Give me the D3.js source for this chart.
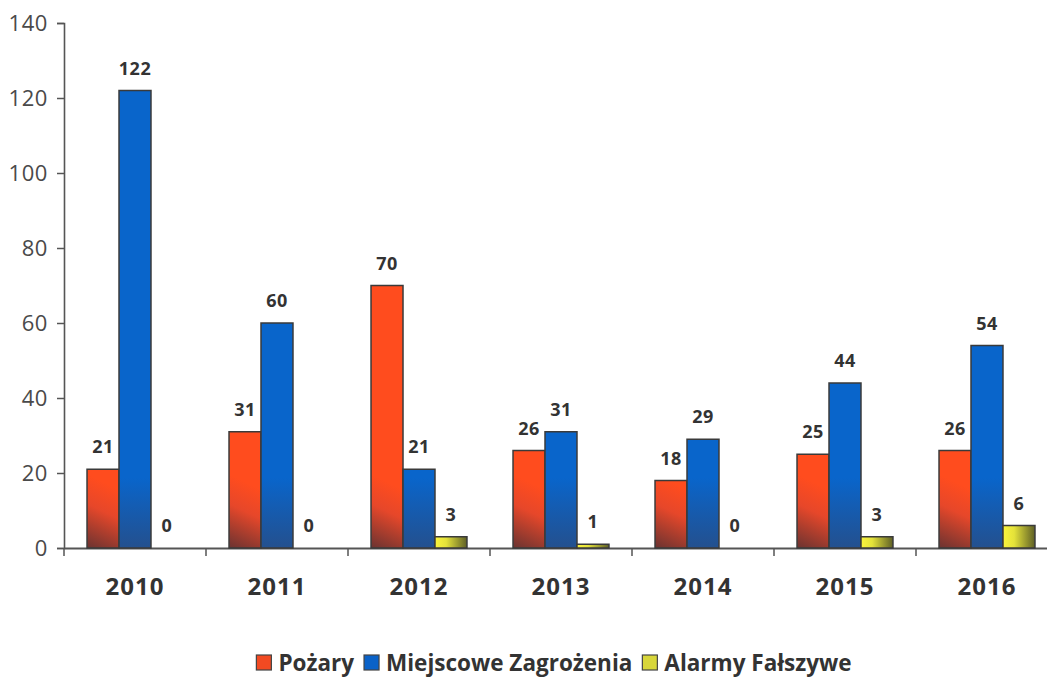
<!DOCTYPE html>
<html>
<head>
<meta charset="utf-8">
<script src="https://cdn.jsdelivr.net/npm/d3@7"></script>
<style>
  body { margin: 0; background: #fff; }
  svg { display: block; }
</style>
</head>
<body>
<div id="chart"></div>
<script>
// data
const years = ["2010", "2011", "2012", "2013", "2014", "2015", "2016"];
const seriesNames = ["Pożary", "Miejscowe Zagrożenia", "Alarmy Fałszywe"];
const pozary = [21, 31, 70, 26, 18, 25, 26];
const miejscowe = [122, 60, 21, 31, 29, 44, 54];
const alarmy = [0, 0, 3, 1, 0, 3, 6];
const yTicks = [0, 20, 40, 60, 80, 100, 120, 140];

const width = 1047;
const height = 677;
const margin = { top: 23, left: 64, bottom: 129 };
const plotRight = 1058; // last category runs past the picture edge

const svg = d3.select("#chart").append("svg")
  .attr("width", width)
  .attr("height", height);

const x = d3.scaleBand()
  .domain(years)
  .range([margin.left, plotRight]);

const xInner = d3.scaleBand()
  .domain(seriesNames)
  .range([0, x.bandwidth()])
  .paddingOuter(0.72)
  .paddingInner(0);

const y = d3.scaleLinear()
  .domain([0, 140])
  .range([height - margin.bottom, margin.top]);

const base = y(0);
const defs = svg.append("defs");

// y axis
const yAxis = svg.append("g")
  .attr("transform", `translate(${margin.left},0)`)
  .call(d3.axisLeft(y).tickValues(yTicks).tickSize(7).tickPadding(9));
yAxis.select(".domain").attr("stroke", "#555").attr("stroke-width", 1.6);
yAxis.selectAll(".tick line").attr("stroke", "#555").attr("stroke-width", 1.5);
yAxis.selectAll("text")
  .attr("fill", "#4a4a4a")
  .style("font-family", "'Open Sans', sans-serif")
  .style("font-size", "22px")
  .style("letter-spacing", "0.6px");

// x axis
const xAxis = svg.append("g")
  .attr("transform", `translate(0,${base})`)
  .call(d3.axisBottom(x).tickSize(0).tickPadding(30));
xAxis.select(".domain").attr("stroke", "#555").attr("stroke-width", 1.8);
xAxis.selectAll("text")
  .attr("fill", "#333")
  .style("font-family", "'Open Sans', sans-serif")
  .style("font-weight", "bold")
  .style("font-size", "24px")
  .style("letter-spacing", "1px");
// category separators
svg.append("g").selectAll("line")
  .data(years)
  .enter().append("line")
  .attr("x1", d => x(d)).attr("x2", d => x(d))
  .attr("y1", base).attr("y2", base + 8)
  .attr("stroke", "#555").attr("stroke-width", 1.5);

const values = [pozary, miejscowe, alarmy];
const rows = [];
years.forEach((yr, i) => {
  seriesNames.forEach((s, j) => rows.push({ year: yr, series: s, si: j, value: values[j][i], id: i }));
});

// gradients per bar
rows.forEach(d => {
  const bx = x(d.year) + xInner(d.series);
  const bw = xInner.bandwidth();
  const g = defs.append("linearGradient")
    .attr("id", `g${d.id}_${d.si}`)
    .attr("gradientUnits", "userSpaceOnUse");
  if (d.si === 0) {
    g.attr("x1", bx).attr("y1", base).attr("x2", bx + bw * 0.9).attr("y2", base - 60);
    g.append("stop").attr("offset", 0).attr("stop-color", "#6a3331");
    g.append("stop").attr("offset", 0.6).attr("stop-color", "#e6472a");
    g.append("stop").attr("offset", 1).attr("stop-color", "#ff4c1e");
  } else if (d.si === 1) {
    g.attr("x1", bx).attr("y1", base).attr("x2", bx).attr("y2", base - 70);
    g.append("stop").attr("offset", 0).attr("stop-color", "#24508e");
    g.append("stop").attr("offset", 1).attr("stop-color", "#0965cb");
  } else {
    g.attr("x1", bx).attr("y1", base).attr("x2", bx + bw).attr("y2", base);
    g.append("stop").attr("offset", 0).attr("stop-color", "#fbf43c");
    g.append("stop").attr("offset", 0.35).attr("stop-color", "#e4e23a");
    g.append("stop").attr("offset", 1).attr("stop-color", "#5e5f26");
  }
});

// bars
svg.append("g").selectAll("rect")
  .data(rows.filter(d => d.value > 0))
  .enter().append("rect")
  .attr("x", d => x(d.year) + xInner(d.series))
  .attr("y", d => y(d.value))
  .attr("width", xInner.bandwidth())
  .attr("height", d => base - y(d.value))
  .attr("fill", d => `url(#g${d.id}_${d.si})`)
  .attr("stroke", "#3a3a3a")
  .attr("stroke-width", 1.5);

// value labels
svg.append("g").selectAll("text")
  .data(rows)
  .enter().append("text")
  .attr("x", d => x(d.year) + xInner(d.series) + xInner.bandwidth() / 2)
  .attr("y", d => y(d.value) - 16)
  .attr("text-anchor", "middle")
  .attr("fill", "#333")
  .style("font-family", "'Open Sans', sans-serif")
  .style("font-weight", "bold")
  .style("font-size", "18px")
  .style("letter-spacing", "0.5px")
  .text(d => d.value);

// legend
const legendColors = ["#f24a22", "#0a62c8", "#d8d63a"];
const legend = svg.append("g").attr("transform", `translate(0,663)`);
let lx = 0;
seriesNames.forEach((s, j) => {
  const it = legend.append("g");
  it.append("rect")
    .attr("x", 0).attr("y", -8)
    .attr("width", 15).attr("height", 15)
    .attr("fill", legendColors[j])
    .attr("stroke", "#444").attr("stroke-width", 1.2);
  const t = it.append("text")
    .attr("x", 22).attr("y", 8)
    .attr("fill", "#333")
    .style("font-family", "'Open Sans', sans-serif")
    .style("font-weight", "bold")
    .style("font-size", "22.5px")
    .text(s);
  const w = 22 + t.node().getComputedTextLength();
  it.attr("transform", `translate(${lx},0)`);
  lx += w + 10;
});
legend.attr("transform", `translate(${554 - (lx - 10) / 2},663)`);
</script>
</body>
</html>
